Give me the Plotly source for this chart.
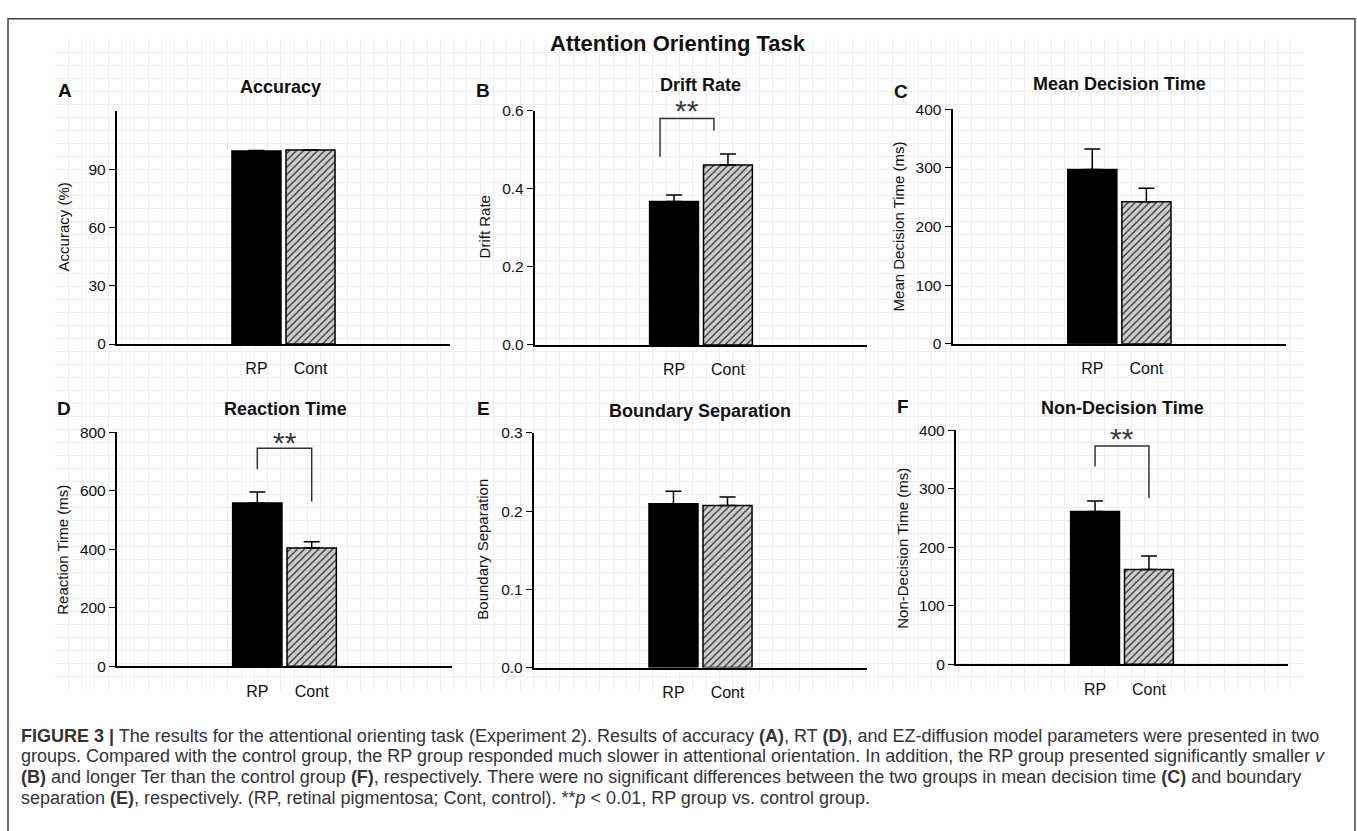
import plotly.graph_objects as go

W, H = 1357, 831
FONT = "Liberation Sans, Arial, sans-serif"

# ---------------- data ----------------
groups = ["RP", "Cont"]
group_pos = [0, 1]

panel_letters = ["A", "B", "C", "D", "E", "F"]
panel_titles = ["Accuracy", "Drift Rate", "Mean Decision Time",
                "Reaction Time", "Boundary Separation", "Non-Decision Time"]
y_titles = ["Accuracy (%)", "Drift Rate", "Mean Decision Time (ms)",
            "Reaction Time (ms)", "Boundary Separation", "Non-Decision Time (ms)"]

accuracy_mean = [99.3, 99.8]
accuracy_err = [0.3, 0.1]
drift_mean = [0.367, 0.461]
drift_err = [0.017, 0.028]
mdt_mean = [297, 242]
mdt_err = [35, 23]
rt_mean = [559, 405]
rt_err = [37, 21]
bound_mean = [0.2095, 0.207]
bound_err = [0.016, 0.011]
ndt_mean = [261, 162]
ndt_err = [18, 23]

means = [accuracy_mean, drift_mean, mdt_mean, rt_mean, bound_mean, ndt_mean]
errs = [accuracy_err, drift_err, mdt_err, rt_err, bound_err, ndt_err]

y_max = [120, 0.6, 400, 800, 0.3, 400]
y_ticks = [[0, 30, 60, 90], [0, 0.2, 0.4, 0.6], [0, 100, 200, 300, 400],
           [0, 200, 400, 600, 800], [0, 0.1, 0.2, 0.3], [0, 100, 200, 300, 400]]
y_ticktext = [["0", "30", "60", "90"], ["0.0", "0.2", "0.4", "0.6"],
              ["0", "100", "200", "300", "400"], ["0", "200", "400", "600", "800"],
              ["0.0", "0.1", "0.2", "0.3"], ["0", "100", "200", "300", "400"]]

# significance brackets: panel index, x offset (group units), top, left-leg bottom, right-leg bottom, star level
sig_panels = [1, 3, 5]
sig_xshift = [-0.26, 0.0, 0.0]
sig_top = [0.58, 746, 373]
sig_left_bottom = [0.482, 674, 338]
sig_right_bottom = [0.549, 564, 284]
sig_star_y = [0.599, 767, 385]
sig_label = "**"

caption_lines = [
    "<b>FIGURE 3 |</b> The results for the attentional orienting task (Experiment 2). Results of accuracy <b>(A)</b>, RT <b>(D)</b>, and EZ-diffusion model parameters were presented in two",
    "groups. Compared with the control group, the RP group responded much slower in attentional orientation. In addition, the RP group presented significantly smaller <i>v</i>",
    "<b>(B)</b> and longer Ter than the control group <b>(F)</b>, respectively. There were no significant differences between the two groups in mean decision time <b>(C)</b> and boundary",
    "separation <b>(E)</b>, respectively. (RP, retinal pigmentosa; Cont, control). **<i>p</i> &lt; 0.01, RP group vs. control group.",
]
main_title = "Attention Orienting Task"

# ---------------- layout geometry (pixels) ----------------
def fx(px):
    return px / W


def fy(py):
    return 1 - py / H

# x-left, x-right, y-bottom(zero), y-top per panel
panel_box = [
    (117, 450, 342, 104),
    (535, 867, 343, 103.7),
    (952.7, 1286, 341.7, 102.3),
    (117, 452, 671, 432.3),
    (534, 867, 672.3, 432.7),
    (956, 1288, 669, 430),
]
title_pos = [(280, 80), (700, 78), (1119, 77), (285, 408), (700, 410), (1122, 407)]
letter_pos = [(65, 83), (483, 83), (901, 84), (64, 408), (483, 408), (903, 406)]
ytitle_pos = [(63, 223), (484, 223), (898, 222), (63, 552), (483, 552), (903, 551)]
caption_y = [742, 763, 784, 805]

fig = go.Figure()
layout = dict(
    width=W, height=H, autosize=False,
    margin=dict(l=0, r=0, t=0, b=0),
    paper_bgcolor="white", plot_bgcolor="rgba(0,0,0,0)",
    showlegend=False, barmode="overlay",
    font=dict(family=FONT, color="#111111"),
)

# background faint grid (first subplot so it sits under everything)
fig.add_trace(go.Scatter(x=[0], y=[0], mode="markers", marker=dict(opacity=0),
                         hoverinfo="skip", xaxis="x", yaxis="y"))
layout["xaxis"] = dict(domain=[fx(55), fx(1304)], range=[0, 94], dtick=1,
                       showgrid=True, gridcolor="#eeeeee", gridwidth=1,
                       showticklabels=False, zeroline=False, showline=False, ticks="")
layout["yaxis"] = dict(domain=[fy(695), fy(31)], range=[0, 50], dtick=1,
                       showgrid=True, gridcolor="#eeeeee", gridwidth=1,
                       showticklabels=False, zeroline=False, showline=False, ticks="")

BAR_W = 0.907
annotations = []
for i in range(6):
    n = i + 2
    xa, ya = f"x{n}", f"y{n}"
    xl, xr, yb, yt = panel_box[i]
    fig.add_trace(go.Bar(
        x=[group_pos[0]], y=[means[i][0]], xaxis=xa, yaxis=ya, width=BAR_W,
        marker=dict(color="black", line=dict(color="black", width=1.5)),
        error_y=dict(type="data", array=[errs[i][0]], arrayminus=[0], symmetric=False,
                     color="black", thickness=1.5, width=8),
    ))
    fig.add_trace(go.Bar(
        x=[group_pos[1]], y=[means[i][1]], xaxis=xa, yaxis=ya, width=BAR_W,
        marker=dict(color="#cccccc", line=dict(color="black", width=1.5),
                    pattern=dict(shape="/", fgcolor="#333333", bgcolor="#cecece",
                                 size=5, solidity=0.27, fillmode="replace")),
        error_y=dict(type="data", array=[errs[i][1]], arrayminus=[0], symmetric=False,
                     color="black", thickness=1.5, width=8),
    ))
    layout[f"xaxis{n}"] = dict(
        domain=[fx(xl), fx(xr)], anchor=ya, range=[-2.58, 3.58],
        tickvals=group_pos, ticktext=groups,
        showline=True, linecolor="black", linewidth=2.3, showgrid=False, zeroline=False,
        ticks="outside", ticklen=9, tickcolor="rgba(0,0,0,0)",
        tickfont=dict(size=16, family=FONT, color="#111111"),
    )
    layout[f"yaxis{n}"] = dict(
        domain=[fy(yb), fy(yt)], anchor=xa, range=[0, y_max[i]],
        tickvals=y_ticks[i], ticktext=y_ticktext[i],
        showline=True, linecolor="black", linewidth=2.3, showgrid=False, zeroline=False,
        ticks="outside", ticklen=6, tickwidth=1.2, tickcolor="black",
        tickfont=dict(size=15.5, family=FONT, color="#111111"),
    )
    tx, ty = title_pos[i]
    annotations.append(dict(text=f"<b>{panel_titles[i]}</b>", x=fx(tx), y=fy(ty),
                            xref="paper", yref="paper", showarrow=False,
                            xanchor="center", yanchor="middle",
                            font=dict(size=18, family=FONT, color="#111111")))
    lx, ly = letter_pos[i]
    annotations.append(dict(text=f"<b>{panel_letters[i]}</b>", x=fx(lx), y=fy(ly),
                            xref="paper", yref="paper", showarrow=False,
                            xanchor="center", yanchor="middle",
                            font=dict(size=19, family=FONT, color="#111111")))
    yx, yy = ytitle_pos[i]
    annotations.append(dict(text=y_titles[i], x=fx(yx), y=fy(yy),
                            xref="paper", yref="paper", showarrow=False, textangle=-90,
                            xanchor="center", yanchor="middle",
                            font=dict(size=15, family=FONT, color="#111111")))

# significance brackets
for k, p in enumerate(sig_panels):
    n = p + 2
    s = sig_xshift[k]
    xl_b = group_pos[0] + s
    xr_b = group_pos[1] + s
    fig.add_trace(go.Scatter(
        x=[xl_b, xl_b, xr_b, xr_b],
        y=[sig_left_bottom[k], sig_top[k], sig_top[k], sig_right_bottom[k]],
        mode="lines", line=dict(color="#333333", width=1.5),
        xaxis=f"x{n}", yaxis=f"y{n}", hoverinfo="skip", cliponaxis=False,
    ))
    annotations.append(dict(text=sig_label, x=(xl_b + xr_b) / 2, y=sig_star_y[k],
                            xref=f"x{n}", yref=f"y{n}", showarrow=False,
                            xanchor="center", yanchor="middle", yshift=0,
                            font=dict(size=30, family=FONT, color="#3a3a3a")))

# main title
annotations.append(dict(text=f"<b>{main_title}</b>", x=fx(678), y=fy(35),
                        xref="paper", yref="paper", showarrow=False,
                        xanchor="center", yanchor="middle",
                        font=dict(size=22, family=FONT, color="#111111")))

# caption
for j, line in enumerate(caption_lines):
    annotations.append(dict(text=line, x=fx(19), y=fy(caption_y[j]),
                            xref="paper", yref="paper", showarrow=False,
                            xanchor="left", yanchor="middle", align="left",
                            font=dict(size=18, family=FONT, color="#333333")))

layout["annotations"] = annotations
layout["shapes"] = [dict(type="rect", xref="paper", yref="paper",
                         x0=fx(8), x1=fx(1355), y0=fy(850), y1=fy(10),
                         line=dict(color="#444444", width=1.5), fillcolor="rgba(0,0,0,0)",
                         layer="below")]

fig.update_layout(**layout)
fig.write_html("out.html", config={"displayModeBar": False},
               post_script="document.body.style.margin='0';document.body.style.overflow='hidden';")
